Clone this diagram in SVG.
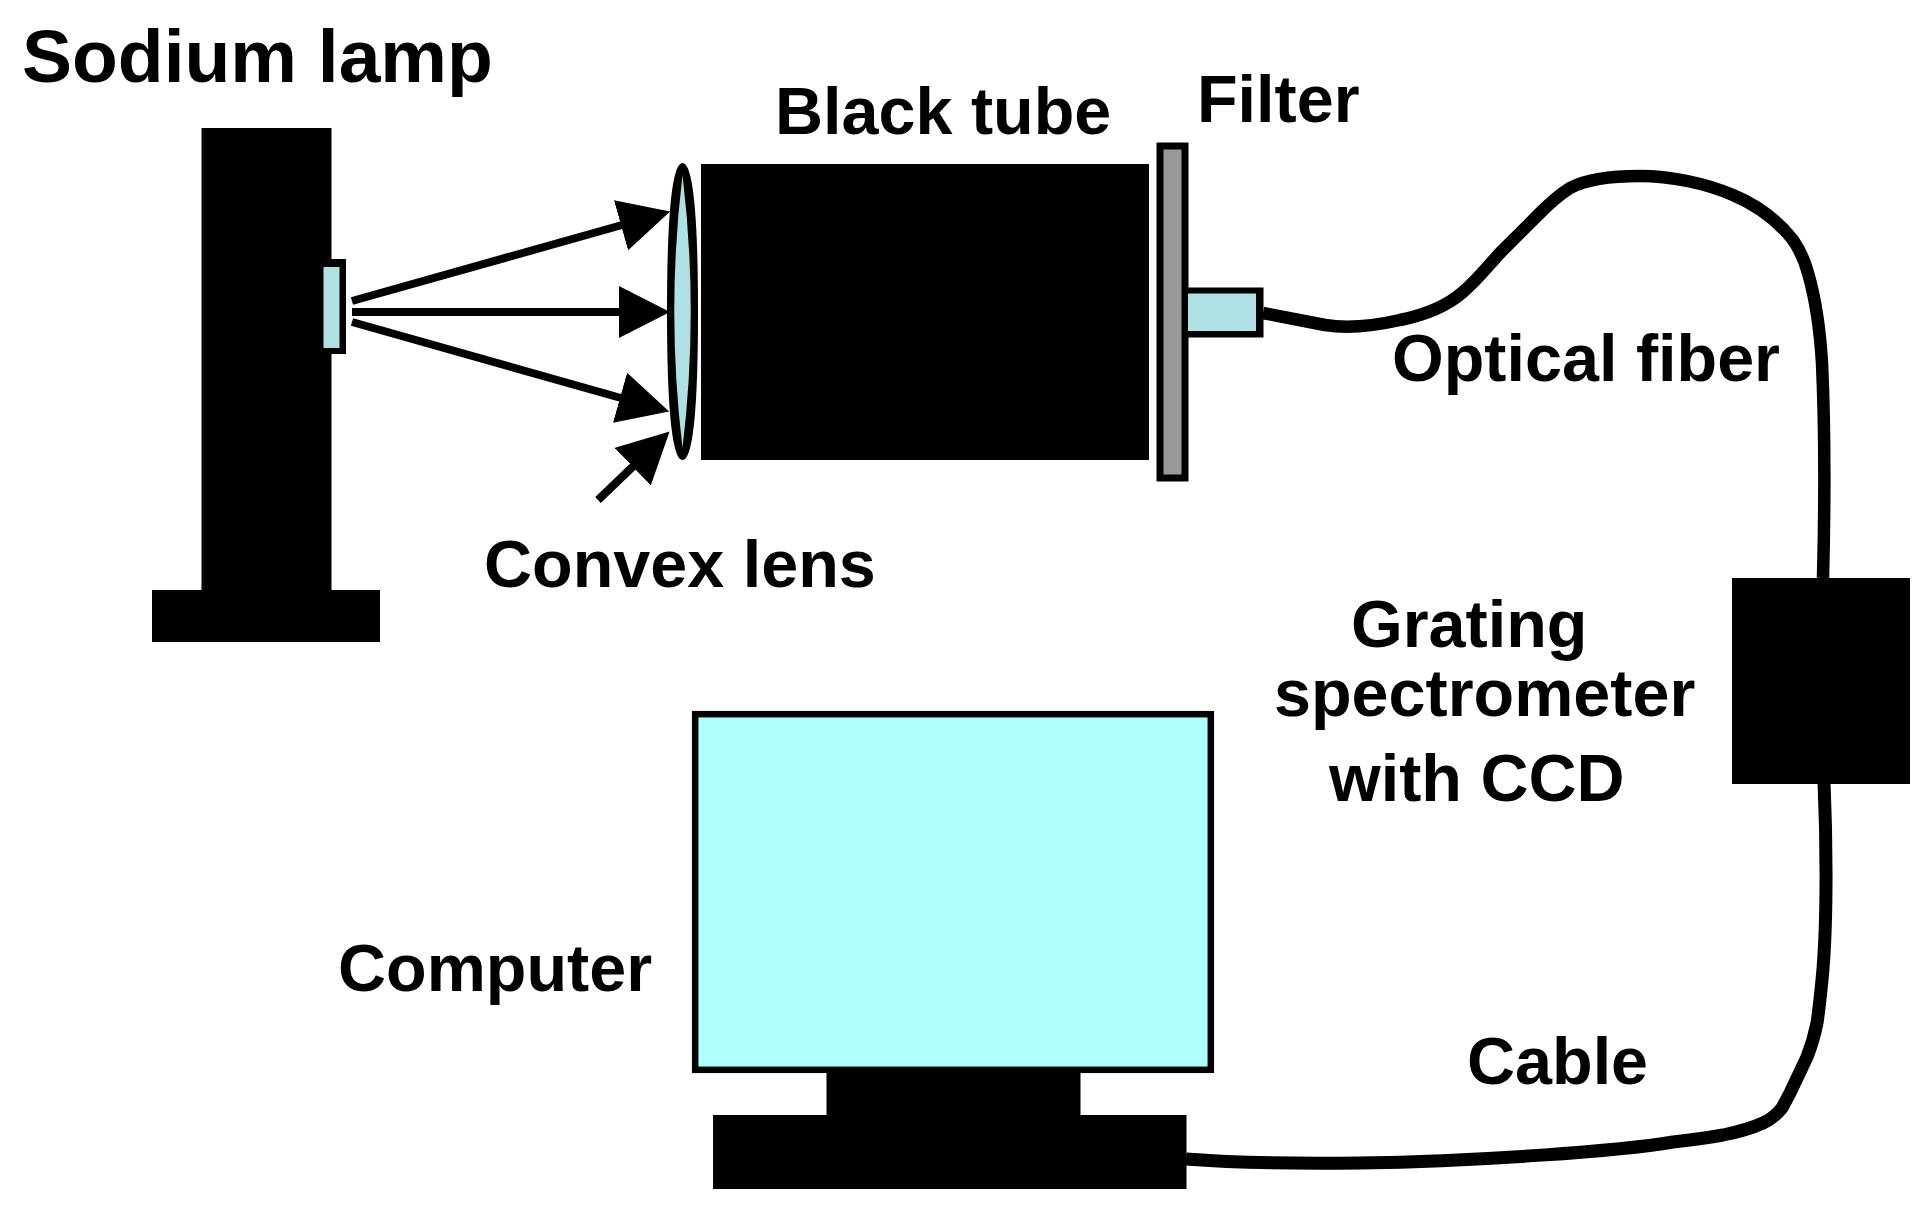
<svg xmlns="http://www.w3.org/2000/svg" width="1931" height="1215" viewBox="0 0 1931 1215">
<style>
text{font-family:"Liberation Sans",Arial,sans-serif;font-weight:700;font-size:66.500px;fill:#000}
.k{fill:#000}
.glass{fill:#aee0e4}
.ray{stroke:#000;stroke-width:8;fill:none;marker-end:url(#head)}
.wire{stroke:#000;fill:none;stroke-linecap:butt;stroke-linejoin:round}
</style>
<defs><marker id="head" markerUnits="userSpaceOnUse" markerWidth="52" markerHeight="52" viewBox="0 0 52 52" refX="1" refY="26" orient="auto"><path d="M0 0L51 26L0 52Z" fill="#000"/></marker></defs>
<rect width="1931" height="1215" fill="#fff"/>
<g id="sodium-lamp">
<rect class="k" x="201.500" y="128" width="130" height="462"/>
<rect class="k" x="152" y="590" width="228" height="52"/>
<rect class="k" x="322" y="259" width="24" height="95"/>
<rect class="glass" x="323.500" y="267" width="16" height="81"/>
<text x="22" y="82" style="font-size:75px">Sodium lamp</text>
</g>
<g id="convex-lens">
<path class="k" d="M682.500 163C694 163 698 225 698 311.500C698 398 694 460 682.500 460C671 460 667 398 667 311.500C667 225 671 163 682.500 163Z"/>
<path class="glass" d="M682.500 175Q699 311.500 682.500 448Q666 311.500 682.500 175Z"/>
<text x="484" y="587">Convex lens</text>
</g>
<g id="black-tube">
<rect class="k" x="701" y="164" width="448" height="296"/>
<text x="775" y="134">Black tube</text>
</g>
<g id="filter">
<rect x="1160" y="146" width="25" height="332" fill="#999" stroke="#000" stroke-width="7"/>
<text x="1197" y="122">Filter</text>
</g>
<g id="fiber-connector">
<rect class="k" x="1187" y="287.500" width="76.500" height="50"/>
<rect class="glass" x="1188" y="293.500" width="68" height="37.500"/>
</g>
<g id="spectrometer">
<rect class="k" x="1732" y="578" width="178" height="206"/>
<text x="1351" y="647">Grating</text>
<text x="1274" y="716">spectrometer</text>
<text x="1329" y="801">with CCD</text>
</g>
<g id="computer">
<rect x="695.200" y="714.200" width="515.600" height="355.600" fill="#b0ffff" stroke="#000" stroke-width="6.500"/>
<rect class="k" x="826.500" y="1073" width="254" height="43"/>
<rect class="k" x="713" y="1115" width="473.500" height="74"/>
<text x="338" y="991">Computer</text>
</g>
<g id="connectors">
<line class="ray" x1="352" y1="301" x2="622" y2="225"/>
<line class="ray" x1="352" y1="312" x2="620" y2="312"/>
<line class="ray" x1="352" y1="322" x2="621" y2="398"/>
<line class="ray" x1="598" y1="500" x2="633.500" y2="466"/>
<path id="optical-fiber" class="wire" stroke-width="12.500" d="M1263 313L1325 325C1350 329 1378 325 1400 320C1425 315 1447 306 1463 292C1478 279 1488 266 1500 253L1540 213C1552 201 1562 193 1570 188C1585 180 1610 176 1640 176C1670 176 1705 183 1733 195C1752 203 1775 217 1793 240C1800 250 1805 262 1808 273C1815 297 1820 330 1822 363C1825 430 1825 500 1823 578"/>
<path id="cable" class="wire" stroke-width="13" d="M1824 782C1827 850 1827 930 1822 980C1820 1000 1819 1010 1817 1023C1814 1038 1811 1047 1807 1057L1790 1093L1782 1108C1778 1113 1772 1119 1763 1123C1750 1129 1738 1132 1723 1135C1706 1138 1690 1140 1673 1142C1620 1151 1480 1161 1360 1163C1280 1164 1225 1162 1186 1159"/>
<text x="1392" y="381">Optical fiber</text>
<text x="1467" y="1084">Cable</text>
</g>
</svg>
